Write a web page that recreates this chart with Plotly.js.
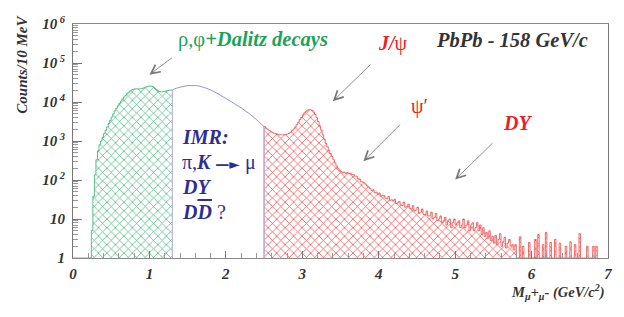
<!DOCTYPE html>
<html>
<head>
<meta charset="utf-8">
<script src="https://cdn.plot.ly/plotly-3.0.1.min.js"></script>
<style>html,body{margin:0;padding:0;background:#fff;}#chart{width:624px;height:317px;}</style>
</head>
<body>
<div id="chart"></div>
<script>
// ---- data (counts per bin) ----
const binWidth = 0.02;

// low-mass region (rho, phi + Dalitz), bins start at 0.24 GeV
const lowMassStart = 0.24;
const lowMassCounts = [5, 38, 135, 330, 560, 800, 1000, 1250, 1550, 1900, 2300, 2800, 3400, 4100, 5000,
  5900, 6900, 8000, 9200, 10500, 12000, 13400, 14900, 16300, 17800, 19200, 20500, 21200, 21600, 21800,
  21700, 21600, 21800, 22300, 23000, 23800, 24600, 25300, 25700, 25600, 24500, 22800, 21000, 19600, 18700,
  18300, 18300, 18600, 19000, 19400, 19700, 20000, 20200];
const lowMassEnd = 1.30;

// intermediate mass region curve
const imrMass = [1.30, 1.35, 1.40, 1.45, 1.50, 1.55, 1.60, 1.65, 1.70, 1.75, 1.80, 1.85, 1.90, 1.95, 2.00,
  2.05, 2.10, 2.15, 2.20, 2.25, 2.30, 2.35, 2.40, 2.45, 2.50];
const imrCounts = [20400, 22400, 24000, 25100, 26300, 26300, 26300, 25700, 24000, 22400, 20400, 18200, 16200,
  14100, 12300, 10700, 9330, 8130, 7080, 6030, 5130, 4270, 3550, 2880, 2340];

// high-mass region (J/psi, psi', DY), bins start at 2.50 GeV
const highMassStart = 2.50;
const highMassCounts = [
  2344, 2138, 1995, 1862, 1738, 1660, 1585, 1549, 1514, 1479,
  1445, 1445, 1445, 1445, 1479, 1514, 1585, 1698, 1862, 2042,
  2291, 2630, 3020, 3548, 4074, 4677, 5248, 5754, 6166, 6310,
  6310, 6026, 5495, 4786, 3981, 3162, 2455, 1905, 1445, 1122,
  871, 708, 575, 479, 398, 331, 275, 229, 200, 178,
  166, 152, 160, 147, 156, 144, 150, 139, 138, 126,
  125, 108, 106, 90, 89,
  85, 78, 70, 66, 60, 54, 56, 47, 49, 43,
  46, 38, 41, 40, 34, 33, 38, 30, 31, 29,
  32, 25, 26, 28, 23, 22, 27, 20, 21, 24,
  19, 18, 22, 16, 17, 20, 14, 15, 18, 13,
  13, 16, 12, 12, 15, 10, 11, 14, 9, 10,
  12, 8, 9, 11, 7, 9, 10, 6, 8, 10,
  7, 8, 9, 6, 7, 10, 6, 7, 9, 5,
  7, 8, 5, 6, 8, 5, 7, 4, 6, 3.5,
  4.5, 3.2, 5.0, 2.8, 3.6, 2.4, 3.8, 2.2, 3.0, 4.2,
  2.0, 2.6, 3.4, 1.8, 2.4, 3.0, 2.0, 2.2, 1.6, 2.2,
  0, 0, 3.5, 0, 2.0, 0, 0, 0, 2.5, 0,
  0, 0, 3.0, 0, 4.0, 0, 0, 2.2, 0, 4.5,
  0, 0, 2.5, 0, 0, 3.0, 0, 0, 2.4, 0,
  0, 0, 2.0, 0, 0, 2.6, 0, 0, 2.2, 0,
  0, 4.2, 0, 0, 0, 0, 2.0, 0, 0, 0,
  2.0, 0, 2.0];

const yTickVals = [1, 10, 100, 1000, 10000, 100000, 1000000];
const yTickText = ['1', '10', '10<sup> 2</sup>', '10<sup> 3</sup>', '10<sup> 4</sup>', '10<sup> 5</sup>', '10<sup> 6</sup>'];
const xTickVals = [0, 1, 2, 3, 4, 5, 6, 7];
const xTickText = ['0', '1', '2', '3', '4', '5', '6', '7'];

// ---- build histogram outlines (floor at 1 = bottom of log axis) ----
function histPath(start, counts, end, lead) {
  const xs = [], ys = [];
  if (lead !== undefined) { xs.push(lead); ys.push(1); }
  xs.push(start); ys.push(1);
  counts.forEach((c, i) => { xs.push(+(start + i * binWidth).toFixed(3)); ys.push(Math.max(c, 1)); });
  const last = Math.max(counts[counts.length - 1], 1);
  xs.push(end); ys.push(last);
  xs.push(end); ys.push(1);
  return {xs, ys};
}
const low = histPath(lowMassStart, lowMassCounts, lowMassEnd, 0);
const highEnd = +(highMassStart + highMassCounts.length * binWidth).toFixed(3);
const high = histPath(highMassStart, highMassCounts, highEnd);

const green = '#33b070', red = '#f03030', blueLine = '#7474c8', lavender = '#b8b8e6';
const imrFirst = imrMass[0], imrLast = imrMass[imrMass.length - 1];

const traces = [
  {x: low.xs, y: low.ys, type: 'scatter', mode: 'lines', line: {shape: 'hv', color: green, width: 0},
   fill: 'toself', fillcolor: 'rgba(255,255,255,0)',
   fillpattern: {shape: 'x', fgcolor: 'rgba(40,170,100,0.9)', bgcolor: 'rgba(255,255,255,0)', size: 6, solidity: 0.22},
   hoverinfo: 'skip', showlegend: false},
  {x: low.xs.slice(0, -1), y: low.ys.slice(0, -1), type: 'scatter', mode: 'lines',
   line: {shape: 'hv', color: green, width: 0.8}, hoverinfo: 'skip', showlegend: false},
  {x: high.xs, y: high.ys, type: 'scatter', mode: 'lines', line: {shape: 'hv', color: red, width: 0.7},
   fill: 'toself', fillcolor: 'rgba(255,255,255,0)',
   fillpattern: {shape: 'x', fgcolor: 'rgba(240,40,40,0.9)', bgcolor: 'rgba(255,255,255,0)', size: 6, solidity: 0.22},
   hoverinfo: 'skip', showlegend: false},
  {x: [imrFirst, imrFirst, null, imrLast, imrLast], y: [1, imrCounts[0], null, 1, imrCounts[imrCounts.length - 1]],
   type: 'scatter', mode: 'lines', line: {color: lavender, width: 1.2}, hoverinfo: 'skip', showlegend: false},
  {x: imrMass, y: imrCounts,
   type: 'scatter', mode: 'lines', line: {shape: 'spline', smoothing: 0.8, color: blueLine, width: 0.8},
   hoverinfo: 'skip', showlegend: false}
];

const serif = 'Liberation Serif';
const tickFont = {family: serif, size: 15, color: '#333', weight: 'bold', style: 'italic'};
const N = "font-family:'Liberation Serif';font-style:normal;font-weight:normal";

function ann(text, x, ylog, color, size, anchor) {
  return {text: text, x: x, y: ylog, xref: 'x', yref: 'y', showarrow: false, xanchor: anchor || 'left', yanchor: 'middle',
    font: {family: serif, size: size, color: color, weight: 'bold', style: 'italic'}};
}
function arrow(x, ylog, ax, ay) {
  return {x: x, y: ylog, xref: 'x', yref: 'y', ax: ax, ay: ay, showarrow: true, text: '',
    arrowhead: 5, arrowsize: 2.2, arrowwidth: 0.8, arrowcolor: '#777'};
}
const greenText = '#1aa35a', redText = '#ee1c24', blueText = '#2e2e90';

const annotations = [
  ann('<span style="' + N + '">ρ,φ</span>+Dalitz decays', 1.35, 5.60, greenText, 20.5),
  ann('J/<span style="' + N + '">ψ</span>', 3.97, 5.50, redText, 20),
  ann('PbPb - 158 GeV/c', 6.77, 5.60, '#333', 20.5, 'right'),
  ann('<span style="' + N + '">ψ′</span>', 4.39, 3.88, redText, 20),
  ann('DY', 5.60, 3.47, redText, 20),
  ann('IMR:', 1.40, 3.11, blueText, 20),
  ann('<span style="' + N + '">π,</span>K<span style="font-style:normal;font-family:DejaVu Sans;font-size:14px"> —► </span><span style="' + N + '">μ</span>', 1.40, 2.45, blueText, 20),
  ann('DY', 1.40, 1.81, blueText, 20),
  ann('D<span style="text-decoration:overline">D</span> <span style="' + N + '">?</span>', 1.40, 1.19, blueText, 20),
  arrow(1.0, 4.70, 24, -18),
  arrow(3.40, 4.02, 39, -38),
  arrow(3.80, 2.48, 38, -38),
  arrow(5.00, 2.01, 39, -38),
  {text: 'Counts/10 MeV', xref: 'paper', yref: 'paper', x: -0.095, y: 0.827, textangle: -90, showarrow: false,
   xanchor: 'center', yanchor: 'middle', font: {family: serif, size: 15, color: '#333', weight: 'bold', style: 'italic'}},
  {text: 'M<sub>μ</sub>+<sub>μ</sub>- (GeV/c<sup>2</sup>)', xref: 'paper', yref: 'paper', x: 0.998, y: -0.144,
   showarrow: false, xanchor: 'right', yanchor: 'middle',
   font: {family: serif, size: 14.5, color: '#333', weight: 'bold', style: 'italic'}}
];

const minorY = [];
for (let d = 0; d < 6; d++) for (let k = 2; k <= 9; k++) minorY.push(k * Math.pow(10, d));

const layout = {
  width: 624, height: 317,
  margin: {l: 73, r: 16, t: 24, b: 59},
  paper_bgcolor: '#fff', plot_bgcolor: '#fff',
  showlegend: false,
  xaxis: {range: [0, 7], tickvals: xTickVals, ticktext: xTickText, ticks: 'inside', ticklen: 7, tickcolor: '#777',
    showline: true, linecolor: '#888', linewidth: 1, mirror: true, showgrid: false, zeroline: false,
    tickfont: tickFont, ticklabelstandoff: 2,
    minor: {dtick: 0.2, ticks: 'inside', ticklen: 5, tickcolor: '#999', showgrid: false}},
  yaxis: {type: 'log', range: [0, 6], tickvals: yTickVals, ticktext: yTickText, ticks: 'inside', ticklen: 9, tickcolor: '#777',
    showline: true, linecolor: '#777', linewidth: 1, mirror: true, showgrid: false, zeroline: false,
    tickfont: tickFont, ticklabelstandoff: 4,
    minor: {tickvals: minorY, ticks: 'inside', ticklen: 5, tickcolor: '#999', showgrid: false}},
  annotations: annotations
};

Plotly.newPlot('chart', traces, layout, {staticPlot: true, displayModeBar: false});
</script>
</body>
</html>
